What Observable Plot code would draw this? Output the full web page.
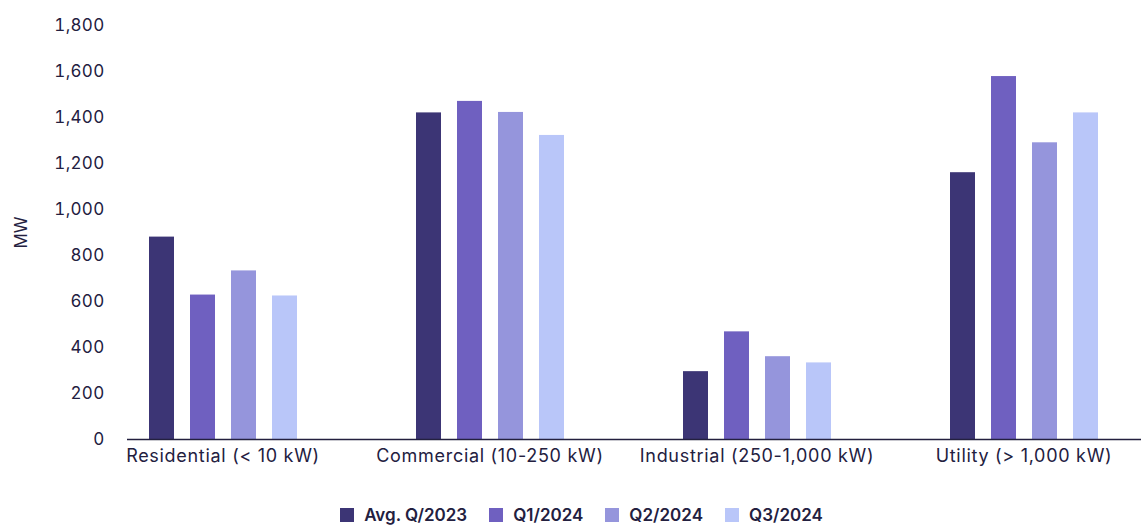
<!DOCTYPE html>
<html>
<head>
<meta charset="utf-8">
<script src="https://cdn.jsdelivr.net/npm/d3@7"></script>
<script src="https://cdn.jsdelivr.net/npm/@observablehq/plot@0.6"></script>
<style>
  html, body { margin: 0; padding: 0; background: #fff; }
  body { width: 1141px; height: 525px; overflow: hidden; font-family: Inter, "Noto Sans", sans-serif; color: #23203f; }
  #chart svg { display: block; }
  #chart g[aria-label="fx-axis tick label"] { letter-spacing: 0.7px; }
  #chart g[aria-label="y-axis tick label"] { letter-spacing: 0.3px; }
  #legend { display: flex; justify-content: center; margin-top: 18px; padding-left: 44px; }
  #legend span { margin-right: 22px !important; }
  #legend svg { margin-right: 10px !important; }
</style>
</head>
<body>
<div id="chart"></div>
<div id="legend"></div>
<script>
// ---- data ----
const categories = ["Residential (< 10 kW)", "Commercial (10-250 kW)", "Industrial (250-1,000 kW)", "Utility (> 1,000 kW)"];
const seriesNames = ["Avg. Q/2023", "Q1/2024", "Q2/2024", "Q3/2024"];
const avgQ2023 = [880, 1420, 295, 1160];
const q1_2024 = [628, 1470, 468, 1578];
const q2_2024 = [733, 1422, 360, 1290];
const q3_2024 = [624, 1322, 333, 1420];
const seriesColors = ["#3c3575", "#6f60c0", "#9595dc", "#b9c6f9"];
const yTicks = [0, 200, 400, 600, 800, 1000, 1200, 1400, 1600, 1800];
const yLabel = "MW";

const seriesValues = [avgQ2023, q1_2024, q2_2024, q3_2024];
const rows = [];
categories.forEach((c, i) => {
  seriesNames.forEach((s, j) => rows.push({category: c, series: s, value: seriesValues[j][i]}));
});

const ink = "#23203f";
const chart = Plot.plot({
  width: 1141,
  height: 480,
  marginTop: 25,
  marginBottom: 41,
  marginLeft: 127,
  marginRight: 0,
  style: {fontFamily: "Inter, sans-serif", fontSize: "17px", color: ink, background: "white"},
  fx: {domain: categories, range: [127, 1195], paddingInner: 0, paddingOuter: 0},
  x: {domain: seriesNames, paddingInner: 0.39, paddingOuter: 1.45, align: 0.185},
  y: {domain: [0, 1800]},
  color: {domain: seriesNames, range: seriesColors},
  marks: [
    Plot.barY(rows, {fx: "category", x: "series", y: "value", fill: "series"}),
    Plot.ruleY([0], {stroke: ink, strokeWidth: 1.3}),
    Plot.axisY({ticks: yTicks, tickFormat: d3.format(","), tickSize: 0, tickPadding: 23,
      label: yLabel, labelAnchor: "center", labelArrow: "none", labelOffset: 113, fill: ink}),
    Plot.axisFx({anchor: "bottom", tickSize: 0, tickPadding: 10, dx: -38, label: null, fill: ink,
      fontSize: 18}),
    Plot.axisX({ticks: [], label: null})
  ]
});
document.getElementById("chart").append(chart);

const legend = Plot.legend({
  color: {domain: seriesNames, range: seriesColors},
  swatchSize: 14,
  swatchWidth: 14,
  swatchHeight: 14,
  style: {fontFamily: "Inter, sans-serif", fontSize: "17px", fontWeight: 600, color: ink, background: "white"}
});
document.getElementById("legend").append(legend);
</script>
</body>
</html>
